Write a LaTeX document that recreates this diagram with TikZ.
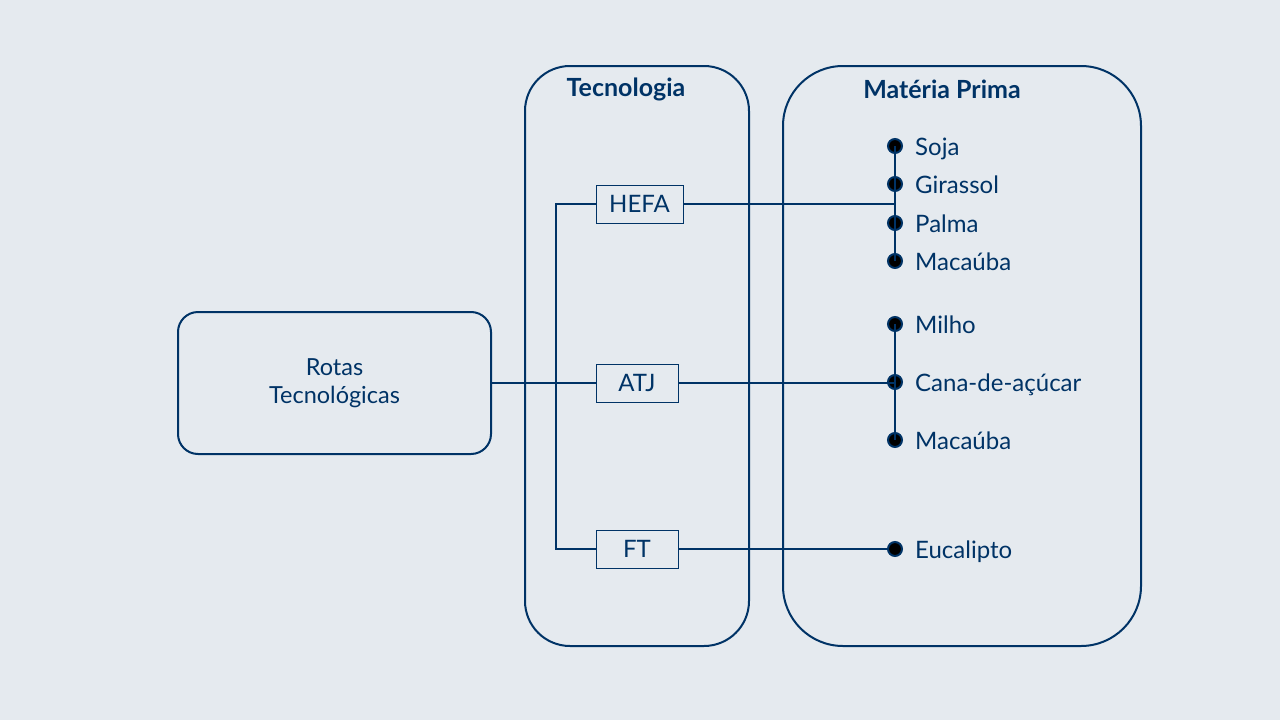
\documentclass[tikz,border=0pt]{standalone}
\usepackage{fontspec}
\setmainfont{Lato}
\definecolor{navy}{RGB}{0,51,102}
\definecolor{paper}{RGB}{229,234,239}
\tikzset{
  bigbox/.style={draw=navy,line width=2pt,inner sep=0pt},
  techbox/.style={draw=navy,line width=1pt,fill=paper,minimum height=38pt,inner sep=0pt,text=navy,font=\fontsize{24}{28}\selectfont},
  titletext/.style={text=navy,font=\fontsize{25}{29}\selectfont\bfseries,inner sep=0pt},
  feedtext/.style={text=navy,font=\fontsize{24}{28}\selectfont,anchor=base west,inner sep=0pt,yshift=-9pt},
  feeddot/.style={circle,draw=navy,fill=black,line width=2pt,minimum size=14pt,inner sep=0pt},
  link/.style={draw=navy,line width=2pt}
}
\begin{document}
\begin{tikzpicture}[x=1pt,y=-1pt]
  % background
  \fill[paper] (0,0) rectangle (1280,720);
  \useasboundingbox (0,0) rectangle (1280,720);
  % outer boxes
  \node[bigbox,rounded corners=20pt,minimum width=313pt,minimum height=142pt,align=center,text=navy,
        font=\fontsize{23.5}{28}\selectfont] (rotas) at (334.5,383) {Rotas\\Tecnológicas};
  \node[bigbox,rounded corners=45pt,minimum width=224pt,minimum height=580pt] (tecbox) at (637,356) {};
  \node[bigbox,rounded corners=60pt,minimum width=358pt,minimum height=580pt] (mpbox) at (962,356) {};
  \node[titletext] (tectitle) at (626,89) {Tecnologia};
  \node[titletext] (mptitle) at (942,89) {Matéria Prima};
  % feedstock dots
  \node[feeddot] (soja) at (895,146) {};
  \node[feeddot] (girassol) at (895,184) {};
  \node[feeddot] (palma) at (895,223) {};
  \node[feeddot] (macauba) at (895,261) {};
  \node[feeddot] (milho) at (895,324) {};
  \node[feeddot] (cana) at (895,382) {};
  \node[feeddot] (macaubab) at (895,440) {};
  \node[feeddot] (eucalipto) at (895,549) {};
  \node[feedtext] (sojatxt) at (915,146) {Soja};
  \node[feedtext] (girassoltxt) at (915,184) {Girassol};
  \node[feedtext] (palmatxt) at (915,223) {Palma};
  \node[feedtext] (macaubatxt) at (915,261) {Macaúba};
  \node[feedtext] (milhotxt) at (915,324) {Milho};
  \node[feedtext] (canatxt) at (915,382) {Cana-de-açúcar};
  \node[feedtext] (macaubabtxt) at (915,440) {Macaúba};
  \node[feedtext] (eucaliptotxt) at (915,549) {Eucalipto};
  % routes
  \node[techbox,minimum width=87pt] (hefa) at (639.5,204) {HEFA};
  \node[techbox,minimum width=82pt] (atj) at (637,383) {ATJ};
  \node[techbox,minimum width=82pt] (ft) at (637,549) {FT};
  % connectors
  \draw[link] (rotas.east) -- (atj.west);
  \draw[link] (hefa.west) -- ++(-40,0) |- (ft.west);
  \draw[link] (hefa.east) -- (hefa.east -| soja);
  \draw[link] (atj.east) -- (atj.east -| cana);
  \draw[link] (ft.east) -- (eucalipto);
  \draw[link] (soja.center) -- (macauba.center);
  \draw[link] (milho.center) -- (macaubab.center);
\end{tikzpicture}
\end{document}
